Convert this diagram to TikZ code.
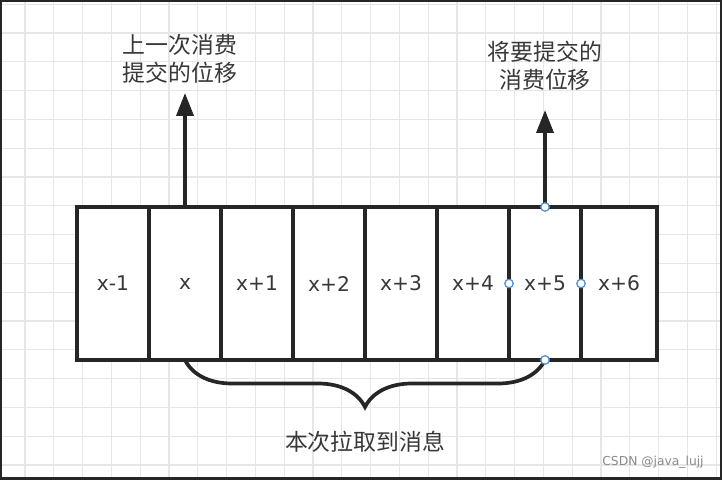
\documentclass[tikz,border=0pt]{standalone}
\usepackage{fontspec}
\setmainfont{Noto Sans CJK SC}
\newfontfamily\labelfont{DejaVu Sans}
\usepackage{tikz}
\usetikzlibrary{arrows.meta,decorations.pathreplacing,positioning}
\definecolor{GridCol}{HTML}{E6E6E6}
\definecolor{LineCol}{HTML}{262626}
\definecolor{TextCol}{HTML}{383838}
\definecolor{HandleCol}{HTML}{4A90D9}
\definecolor{MarkCol}{HTML}{8A8A8A}

\begin{document}
\begin{tikzpicture}[
  cell/.style={draw=LineCol, line width=2.1pt, fill=white, minimum width=1.44cm,
    minimum height=3.06cm, inner sep=0pt, outer sep=0pt, text=TextCol,
    font=\labelfont\fontsize{11.5}{13}\selectfont},
  note/.style={align=center, text=TextCol, font=\fontsize{13}{16}\selectfont},
  handle/.style={draw=HandleCol, fill=white, circle, line width=0.7pt,
    minimum size=0.17cm, inner sep=0pt},
  pointer/.style={draw=LineCol, line width=2.1pt, -{Triangle[length=0.46cm,width=0.34cm]}},
  bracket/.style={draw=LineCol, line width=2.1pt, decorate,
    decoration={brace, mirror, amplitude=0.94cm}},
]
  \useasboundingbox (0,0) rectangle (14.44,9.58);
  % background grid
  \fill[white] (0,0) rectangle (14.44,9.58);
  \foreach \k in {0,...,24}
    \draw[GridCol, line width=0.6pt] (0.5+0.576*\k,0) -- ++(0,9.58);
  \foreach \k in {0,...,16}
    \draw[GridCol, line width=0.6pt] (0,9.496-0.576*\k) -- ++(14.44,0);
  \draw[LineCol, line width=0.09cm] (0,0) rectangle (14.44,9.58);

  % offsets in the partition
  \node[cell] (c1) at (2.26,3.91) {x-1};
  \foreach \lab [count=\i from 2, remember=\i as \j (initially 1)] in {x,x+1,x+2,x+3,x+4,x+5}
    \node[cell, right=0pt of c\j] (c\i) {\lab};
  \node[cell, minimum width=1.52cm, right=0pt of c7] (c8) {x+6};

  % committed / to commit
  \node[note, above=2.28cm of c2, xshift=-0.1cm, inner ysep=0.18cm] (prev) {上一次消费\\提交的位移};
  \node[note, above=1.94cm of c7, inner ysep=0.38cm] (next) {将要提交的\\消费位移};
  \draw[pointer] (c2.north) -- (c2.north |- prev.south);
  \draw[pointer] (c7.north) -- (next.south);

  % fetched range
  \draw[bracket] (c2.south) -- (c7.south)
    node[note, midway, yshift=-1.64cm] (pull) {本次拉取到消息};

  \foreach \a in {north,south,west,east}
    \node[handle] (h-\a) at (c7.\a) {};

  \node[text=MarkCol, font=\labelfont\fontsize{7}{8}\selectfont] (mark) at (13.06,0.34) {CSDN @java\_lujj};
\end{tikzpicture}
\end{document}
